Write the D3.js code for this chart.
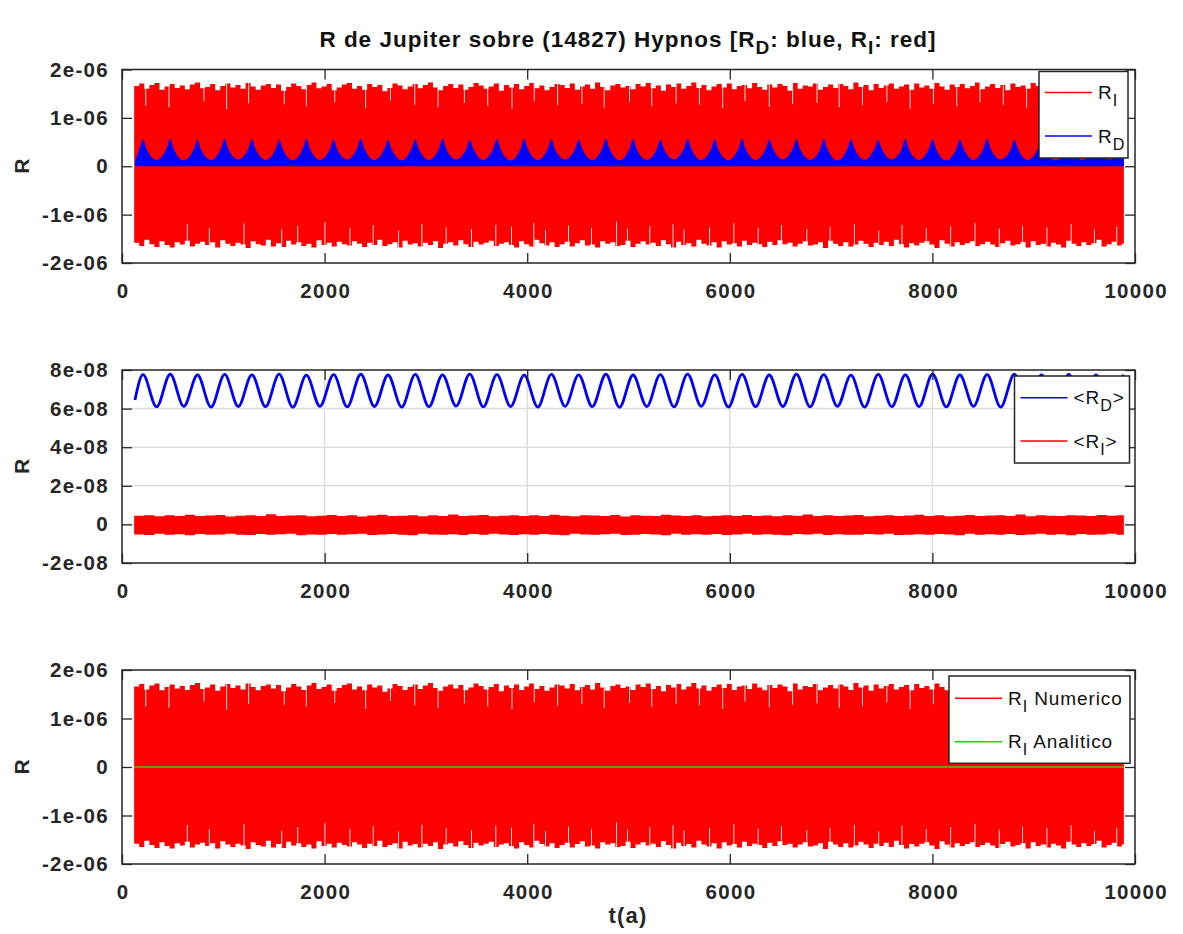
<!DOCTYPE html>
<html><head><meta charset="utf-8">
<script src="https://cdn.jsdelivr.net/npm/d3@7"></script>
<style>
body{margin:0;background:#fff}
svg{display:block}
text{font-family:"Liberation Sans",Arial,Helvetica,sans-serif}
</style>
</head><body>
<svg id="c" width="1183" height="934"></svg>
<script>
// ---------------- DATA ----------------
const xTicks = [0, 2000, 4000, 6000, 8000, 10000];
const yTicksR = [-2e-6, -1e-6, 0, 1e-6, 2e-6];
const yLabelsR = ["-2e-06", "-1e-06", "0", "1e-06", "2e-06"];
const yTicksM = [-2e-8, 0, 2e-8, 4e-8, 6e-8, 8e-8];
const yLabelsM = ["-2e-08", "0", "2e-08", "4e-08", "6e-08", "8e-08"];

// R_I (numeric) envelope, sampled every 50 a from t=120 (units of 1e-8)
const riStart = 120, riStep = 50, riEnd = 9890;
const riUpper = [
166,171,160,168,172,158,165,170,162,167,159,169,173,161,
164,170,157,166,171,163,168,160,172,165,158,167,170,162,
169,156,164,171,166,159,168,173,161,165,170,157,163,169,
172,160,166,158,170,164,168,155,162,171,167,159,165,170,
161,168,173,163,157,166,170,162,169,158,164,172,167,160,
165,171,156,168,163,170,159,166,172,161,167,157,164,170,
168,162,171,158,165,169,160,173,164,157,167,170,163,166,
159,170,165,172,161,167,156,169,164,171,160,166,173,162,
168,157,165,170,163,171,159,166,168,161,172,164,158,169,
163,170,166,156,172,160,167,165,171,158,164,169,162,170,
166,159,173,164,168,157,170,162,167,171,160,165,169,158,
171,163,167,160,172,165,158,169,164,170,161,166,173,159,
165,170,162,168,157,171,164,167,160,172,166,158,169,163,
170,161,166,172,159,168,164,157,171,165,169,162,167,160];
const riLower = [
158,165,152,161,167,155,163,168,157,162,154,166,160,156,
163,157,168,153,160,165,158,162,169,155,161,164,152,166,
159,167,154,162,157,165,160,168,153,163,158,166,156,161,
164,155,160,167,158,163,152,165,161,157,168,154,162,159,
166,158,163,155,169,160,157,164,153,161,167,156,162,158,
154,165,160,157,163,168,155,161,166,152,159,164,157,167,
161,156,166,159,153,164,162,168,155,160,157,165,163,154,
167,160,155,162,158,165,153,161,168,156,163,159,166,152,
160,164,157,168,155,162,159,166,154,163,158,161,167,156,
163,153,161,158,166,160,155,164,162,157,169,154,160,165,
157,166,162,154,160,167,158,163,156,165,152,161,168,159,
164,158,155,162,169,153,160,166,157,163,159,155,165,161,
156,162,167,159,154,164,161,157,168,155,163,160,166,158,
162,168,154,160,165,157,163,159,152,166,161,156,164,160];
// narrow dips of the R_I signal (time, value reached, units of 1e-8)
const riDipUpT = [234,464,809,1033,1250,1602,1820,2100,2405,2650,2890,3120,3380,3610,3850,4070,4300,4540,4760,5010,5230,5470,5700,5930,6150,6390,6620,6860,7080,7310,7550,7780,8010,8240,8470,8700,8930,9160,9400,9630];
const riDipUpV = [125,122,135,118,130,128,124,132,120,136,127,122,131,125,119,134,126,129,121,133,124,130,127,120,135,123,128,131,122,126,133,119,129,124,132,127,121,130,125,134];
const riDipLoT = [645,862,1204,1576,1734,2003,2250,2480,2730,2960,3200,3450,3690,3845,4065,4181,4408,4635,4882,4990,5210,5440,5549,5800,6040,6280,6510,6760,6990,7230,7470,7700,7940,8180,8420,8660,8890,9130,9370,9600,9820];
const riDipLoV = [120,128,118,131,124,115,127,122,133,119,126,130,121,125,117,132,123,128,114,129,124,120,131,126,118,127,122,130,125,119,133,121,128,124,117,129,123,126,120,131,125];

// R_D envelope [t, value in 1e-8]
const rdEnv = [[128,10],
[172,36],[207,56],[242,36],[341,13],[441,37],[476,57],[511,36],[610,12],
[710,36],[745,55],[780,35],[879,13],[978,37],[1013,57],[1048,36],[1148,14],
[1247,36],[1282,56],[1317,37],[1417,13],[1516,35],[1551,55],[1586,36],[1686,12],
[1785,37],[1820,57],[1855,36],[1954,13],[2054,36],[2089,56],[2124,35],[2223,14],
[2322,37],[2357,57],[2392,37],[2492,13],[2591,36],[2626,55],[2661,36],[2761,12],
[2860,37],[2895,56],[2930,36],[3030,13],[3129,36],[3164,57],[3199,37],[3298,14],
[3398,35],[3433,55],[3468,36],[3567,13],[3666,37],[3701,56],[3736,36],[3836,12],
[3935,36],[3970,57],[4005,37],[4105,13],[4204,37],[4239,56],[4274,35],[4374,14],
[4473,36],[4508,55],[4543,36],[4642,13],[4742,37],[4777,57],[4812,37],[4911,12],
[5010,36],[5045,56],[5080,36],[5180,13],[5279,35],[5314,55],[5349,36],[5449,14],
[5548,37],[5583,57],[5618,37],[5718,13],[5817,36],[5852,56],[5887,35],[5986,12],
[6086,37],[6121,57],[6156,36],[6255,13],[6354,36],[6389,55],[6424,37],[6524,14],
[6623,37],[6658,56],[6693,36],[6793,13],[6892,35],[6927,57],[6962,36],[7062,12],
[7161,36],[7196,56],[7231,37],[7330,13],[7430,37],[7465,55],[7500,36],[7599,14],
[7698,36],[7733,57],[7768,35],[7868,13],[7967,37],[8002,56],[8037,36],[8137,12],
[8236,36],[8271,55],[8306,37],[8406,13],[8505,37],[8540,57],[8575,36],[8674,14],
[8774,35],[8809,56],[8844,36],[8943,13],[9042,37],[9077,57],[9112,37],[9212,12],
[9311,36],[9346,55],[9381,36],[9481,13],[9580,37],[9615,56],[9650,36],[9750,14],
[9849,36],[9884,57],[9890,52]];

// <R_D> extremes [t, value in 1e-8]
const mRdT = [128,207,341,476,610,745,879,1013,1148,1282,1417,1551,1686,1820,1954,2089,2223,2357,2492,2626,2761,2895,3030,3164,3298,3433,3567,3701,3836,3970,4105,4239,4374,4508,4642,4777,4911,5045,5180,5314,5449,5583,5718,5852,5986,6121,6255,6389,6524,6658,6793,6927,7062,7196,7330,7465,7599,7733,7868,8002,8137,8271,8406,8540,8674,8809,8943,9077,9212,9346,9481,9615,9750,9884];
const mRdV = [6.45,
7.76,6.09,7.78,6.12,7.74,6.08,7.77,6.11,7.75,6.10,7.79,6.07,
7.73,6.12,7.76,6.09,7.78,6.11,7.74,6.08,7.77,6.10,7.75,6.13,
7.79,6.09,7.76,6.11,7.73,6.08,7.77,6.12,7.75,6.10,7.78,6.07,
7.74,6.11,7.76,6.09,7.79,6.12,7.75,6.08,7.77,6.10,7.74,6.11,
7.78,6.09,7.76,6.12,7.73,6.08,7.77,6.10,7.75,6.11,7.79,6.09,
7.74,6.12,7.76,6.08,7.78,6.10,7.75,6.11,7.77,6.09,7.74,6.10,
7.76];

// <R_I> band, sampled every 100 a from t=120 (units of 1e-10)
const mRiStep = 100;
const mRiUpper = [
45,48,42,47,44,50,43,46,49,41,45,47,44,52,43,46,48,42,45,49,
44,47,41,46,50,43,45,48,42,47,44,51,43,46,49,42,45,48,44,47,
43,50,45,42,48,46,44,49,41,47,45,43,50,46,44,48,42,45,47,43,
49,44,46,42,48,45,51,43,47,44,46,49,42,45,48,43,46,50,44,47,
42,45,49,43,46,48,44,51,42,47,45,43,48,46,44,49,45,47];
const mRiLower = [
52,55,49,53,51,56,50,54,52,48,53,55,50,54,51,49,56,52,53,50,
54,51,48,55,52,50,53,56,49,52,54,51,55,50,53,48,52,55,51,54,
50,53,56,49,52,54,51,48,55,53,50,52,56,49,54,51,53,50,55,52,
48,54,51,53,56,50,52,49,55,51,53,54,50,52,48,55,53,51,54,50,
52,56,49,53,51,54,50,55,52,48,53,51,56,50,54,52,49,53];

// R_I analytic
const anaT = [120, 9890];
const anaV = [0, 0];

// ---------------- DRAW ----------------
const svg = d3.select("#c");
const INK = "#262626";
const x = d3.scaleLinear().domain([0, 10000]).range([122, 1135]);

const panels = [
  {top: 69.5, bottom: 263, domain: [-2e-6, 2e-6], ticks: yTicksR, labels: yLabelsR, grid: false},
  {top: 370, bottom: 563, domain: [-2e-8, 8e-8], ticks: yTicksM, labels: yLabelsM, grid: true},
  {top: 670, bottom: 864, domain: [-2e-6, 2e-6], ticks: yTicksR, labels: yLabelsR, grid: false}
];

function richText(sel, parts, size) {
  let prevSub = false;
  parts.forEach(p => {
    const ts = sel.append("tspan").text(p.t);
    if (p.sub) { ts.attr("dy", 7).attr("font-size", size * 0.85); prevSub = true; }
    else if (prevSub) { ts.attr("dy", -7); prevSub = false; }
  });
}

function riSeries() {
  const pts = riUpper.map((u, i) => ({t: riStart + riStep * i, u: u * 1e-8, l: -riLower[i] * 1e-8}));
  const last = pts[pts.length - 1];
  pts.push({t: riEnd, u: last.u, l: last.l});
  return pts;
}

function panelFrame(p, idx) {
  const y = d3.scaleLinear().domain(p.domain).range([p.bottom, p.top]);
  const g = svg.append("g");
  const clipId = "clip" + idx;
  svg.append("clipPath").attr("id", clipId).append("rect")
    .attr("x", x(0)).attr("y", p.top).attr("width", x(10000) - x(0)).attr("height", p.bottom - p.top);
  const plot = g.append("g").attr("clip-path", `url(#${clipId})`);
  plot.append("rect").attr("x", x(0)).attr("y", p.top).attr("width", x(10000) - x(0))
    .attr("height", p.bottom - p.top).attr("fill", "#fff");
  if (p.grid) {
    plot.selectAll(".gx").data(xTicks.slice(1, -1)).join("line")
      .attr("x1", d => x(d)).attr("x2", d => x(d)).attr("y1", p.top).attr("y2", p.bottom)
      .attr("stroke", "#dedede").attr("stroke-width", 1.5);
    plot.selectAll(".gy").data(p.ticks.slice(1, -1)).join("line")
      .attr("x1", x(0)).attr("x2", x(10000)).attr("y1", d => y(d)).attr("y2", d => y(d))
      .attr("stroke", "#dedede").attr("stroke-width", 1.5);
  }
  return {g, plot, y};
}

function panelAxes(g, p, y) {
  const styleAxis = sel => {
    sel.select(".domain").remove();
    sel.selectAll("line").attr("stroke", INK).attr("stroke-width", 1.3);
    sel.selectAll("text").attr("fill", INK).attr("font-size", 20.5).attr("font-weight", "bold")
      .attr("letter-spacing", 1.3).style("font-family", '"Liberation Sans",Arial,sans-serif');
  };
  g.append("g").attr("transform", `translate(0,${p.bottom})`)
    .call(d3.axisBottom(x).tickValues(xTicks).tickSizeInner(-10).tickSizeOuter(0).tickPadding(20).tickFormat(d => String(d)))
    .call(styleAxis).selectAll("text").attr("dx", 0.65);
  g.append("g").attr("transform", `translate(0,${p.top})`)
    .call(d3.axisTop(x).tickValues(xTicks).tickSizeInner(-10).tickSizeOuter(0).tickFormat(""))
    .call(styleAxis);
  g.append("g").attr("transform", `translate(${x(0)},0)`)
    .call(d3.axisLeft(y).tickValues(p.ticks).tickSizeInner(-10).tickSizeOuter(0).tickPadding(13)
      .tickFormat((d, i) => p.labels[i]))
    .call(styleAxis);
  g.append("g").attr("transform", `translate(${x(10000)},0)`)
    .call(d3.axisRight(y).tickValues(p.ticks).tickSizeInner(-10).tickSizeOuter(0).tickFormat(""))
    .call(styleAxis);
  g.append("rect").attr("x", x(0)).attr("y", p.top).attr("width", x(10000) - x(0))
    .attr("height", p.bottom - p.top).attr("fill", "none").attr("stroke", INK).attr("stroke-width", 1.5);
  g.append("text").attr("transform", `translate(29,${(p.top + p.bottom) / 2}) rotate(-90)`)
    .attr("text-anchor", "middle").attr("font-size", 21).attr("font-weight", "bold")
    .attr("fill", INK).text("R");
}

function drawRI(plot, y) {
  const pts = riSeries();
  plot.append("path").datum(pts)
    .attr("d", d3.area().x(d => x(d.t)).y0(d => y(d.l)).y1(d => y(d.u)).curve(d3.curveStepAfter))
    .attr("fill", "#ff0000");
  plot.selectAll(".du").data(riDipUpT.map((t, i) => ({t, v: riDipUpV[i] * 1e-8}))).join("line")
    .attr("x1", d => x(d.t)).attr("x2", d => x(d.t)).attr("y1", d => y(d.v)).attr("y2", y(1.85e-6))
    .attr("stroke", "#fff").attr("stroke-opacity", 0.85).attr("stroke-width", 1);
  plot.selectAll(".dl").data(riDipLoT.map((t, i) => ({t, v: -riDipLoV[i] * 1e-8}))).join("line")
    .attr("x1", d => x(d.t)).attr("x2", d => x(d.t)).attr("y1", d => y(d.v)).attr("y2", y(-1.85e-6))
    .attr("stroke", "#fff").attr("stroke-opacity", 0.85).attr("stroke-width", 1);
}

function legend(x0, y0, w, h, items) {
  const g = svg.append("g");
  g.append("rect").attr("x", x0).attr("y", y0).attr("width", w).attr("height", h)
    .attr("fill", "#fff").attr("stroke", INK).attr("stroke-width", 1.5);
  items.forEach(it => {
    g.append("line").attr("x1", x0 + 6).attr("x2", x0 + 53).attr("y1", it.y).attr("y2", it.y)
      .attr("stroke", it.color).attr("stroke-width", 1.6);
    const t = g.append("text").attr("x", x0 + 59).attr("y", it.y + 6.5).attr("font-size", 19)
      .attr("letter-spacing", 0.9).attr("fill", "#111");
    richText(t, it.parts, 19);
  });
}

// Panel 1
{
  const p = panels[0];
  const {g, plot, y} = panelFrame(p, 0);
  drawRI(plot, y);
  plot.append("path").datum(rdEnv)
    .attr("d", d3.area().x(d => x(d[0])).y0(y(0)).y1(d => y(d[1] * 1e-8)).curve(d3.curveMonotoneX))
    .attr("fill", "#0000ff");
  panelAxes(g, p, y);
  legend(1039, 71.5, 89, 86.5, [
    {y: 92.5, color: "#ff0000", parts: [{t: "R"}, {t: "I", sub: true}]},
    {y: 136, color: "#0000ff", parts: [{t: "R"}, {t: "D", sub: true}]}
  ]);
}
// Panel 2
{
  const p = panels[1];
  const {g, plot, y} = panelFrame(p, 1);
  const band = mRiUpper.map((u, i) => ({t: riStart + mRiStep * i, u: u * 1e-10, l: -mRiLower[i] * 1e-10}));
  band.push({t: riEnd, u: band[band.length - 1].u, l: band[band.length - 1].l});
  plot.append("path").datum(band)
    .attr("d", d3.area().x(d => x(d.t)).y0(d => y(d.l)).y1(d => y(d.u)).curve(d3.curveStepAfter))
    .attr("fill", "#ff0000");
  plot.append("path").datum(mRdT.map((t, i) => [t, mRdV[i] * 1e-8]))
    .attr("d", d3.line().x(d => x(d[0])).y(d => y(d[1])).curve(d3.curveMonotoneX))
    .attr("fill", "none").attr("stroke", "#0000ff").attr("stroke-width", 2.8);
  panelAxes(g, p, y);
  legend(1014.5, 376, 115, 87, [
    {y: 397.7, color: "#0000ff", parts: [{t: "<R"}, {t: "D", sub: true}, {t: ">"}]},
    {y: 441, color: "#ff0000", parts: [{t: "<R"}, {t: "I", sub: true}, {t: ">"}]}
  ]);
}
// Panel 3
{
  const p = panels[2];
  const {g, plot, y} = panelFrame(p, 2);
  drawRI(plot, y);
  plot.append("path").datum(anaT.map((t, i) => [t, anaV[i]]))
    .attr("d", d3.line().x(d => x(d[0])).y(d => y(d[1])))
    .attr("fill", "none").attr("stroke", "#7f9200").attr("stroke-width", 2.2);
  panelAxes(g, p, y);
  legend(949, 676, 181, 87.3, [
    {y: 698.3, color: "#ff0000", parts: [{t: "R"}, {t: "I", sub: true}, {t: " Numerico"}]},
    {y: 741.7, color: "#00e000", parts: [{t: "R"}, {t: "I", sub: true}, {t: " Analitico"}]}
  ]);
}

// Title & x label
{
  const t = svg.append("text").attr("x", 628).attr("y", 47).attr("text-anchor", "middle")
    .attr("font-size", 22.5).attr("font-weight", "bold").attr("letter-spacing", 1.0).attr("fill", "#111");
  richText(t, [{t: "R de Jupiter sobre (14827) Hypnos [R"}, {t: "D", sub: true},
    {t: ": blue, R"}, {t: "I", sub: true}, {t: ": red]"}], 22.5);
  svg.append("text").attr("x", 628).attr("y", 923).attr("text-anchor", "middle")
    .attr("font-size", 22).attr("font-weight", "bold").attr("letter-spacing", 1.2)
    .attr("fill", INK).text("t(a)");
}
</script>
</body></html>
